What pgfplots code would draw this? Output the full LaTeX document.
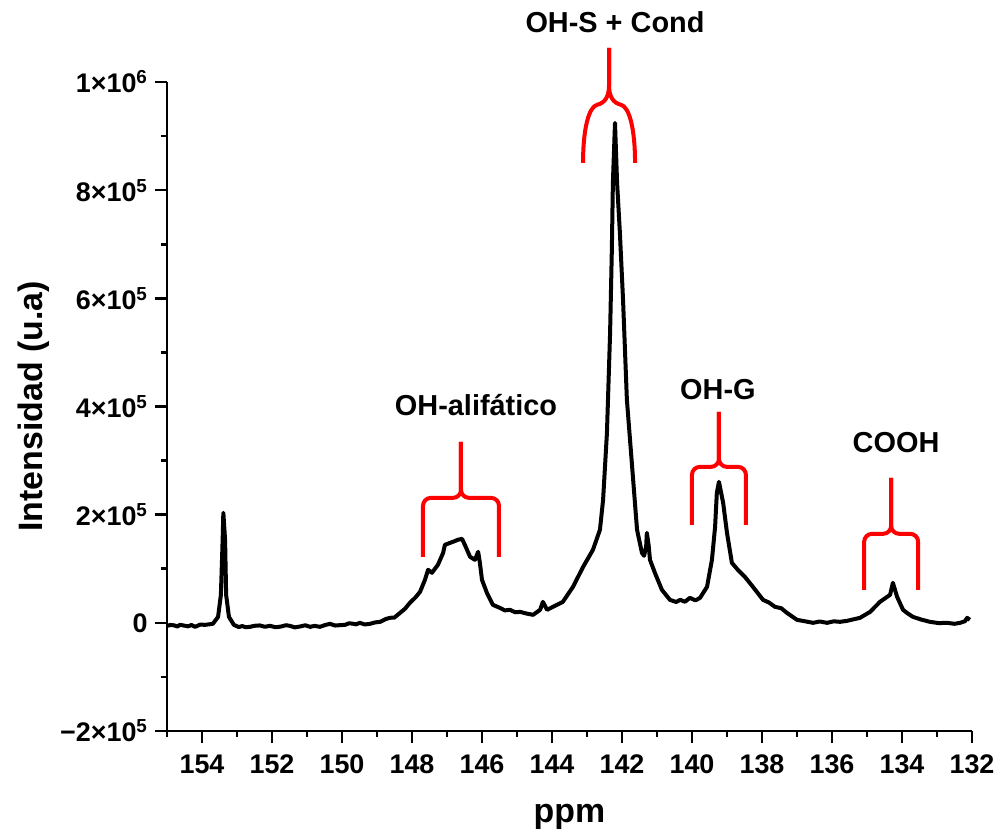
\documentclass[border=0pt]{standalone}
\usepackage{fontspec}
\setmainfont{Liberation Sans}
\usepackage{pgfplots}
\pgfplotsset{compat=1.18}
\begin{document}
\begin{tikzpicture}
\begin{axis}[
  scale only axis, width=805bp, height=649bp,
  x dir=reverse, xmin=132, xmax=155, ymin=-200000, ymax=1000000,
  axis lines*=left, axis line style={line width=2.6bp},
  clip=false,
  xtick={132,134,...,154}, minor xtick={133,135,...,155},
  ytick={-200000,0,200000,400000,600000,800000,1000000},
  yticklabels={−2×10\textsuperscript{5},0,2×10\textsuperscript{5},4×10\textsuperscript{5},6×10\textsuperscript{5},8×10\textsuperscript{5},1×10\textsuperscript{6}},
  minor ytick={-100000,100000,300000,500000,700000,900000},
  scaled y ticks=false,
  tick align=outside, major tick length=12bp, minor tick length=6bp,
  every tick/.style={line width=2.6bp, black},
  ticklabel style={font=\fontsize{27}{32}\selectfont\bfseries},
  xticklabel style={yshift=-8bp},
  yticklabel style={xshift=-4bp},
  /pgf/number format/assume math mode=true,
  xlabel={ppm}, ylabel={Intensidad (u.a)},
  label style={font=\fontsize{34}{40}\selectfont\bfseries},
  xlabel style={at={(axis description cs:0.5,0)}, anchor=center, yshift=-86bp},
  ylabel style={at={(axis description cs:0,0.5)}, anchor=center, yshift=133bp},
]
\coordinate (ll) at (axis description cs:0,0);
\coordinate (ur) at (axis description cs:1,1);
\addplot[line width=4bp, black, line join=round] coordinates {
(155.00,-5550) (154.90,-3900) (154.80,-4600) (154.70,-6800) (154.63,-3700) (154.50,-5200) (154.40,-6500) (154.30,-4000) (154.20,-7400) (154.05,-3300) (153.91,-3700)
(153.69,-1850) (153.54,11100) (153.46,51800) (153.41,153500) (153.39,203400) (153.34,153500)
(153.31,51800) (153.23,11100) (153.09,-3700) (152.95,-7800) (152.85,-6000) (152.75,-8200) (152.63,-7400) (152.50,-5500) (152.35,-4800) (152.20,-7300) (152.06,-5550)
(151.90,-8100) (151.75,-7000) (151.60,-4400) (151.49,-5550) (151.35,-8400) (151.20,-6800) (151.05,-4500) (150.91,-7400) (150.78,-5600) (150.63,-7400) (150.48,-4000) (150.34,-1850)
(150.20,-5000) (150.10,-4500) (149.91,-3700) (149.80,-800) (149.70,-1500) (149.60,-2800) (149.49,0) (149.35,-3000) (149.20,-1850) (149.05,800) (148.91,1850)
(148.75,7000) (148.63,9250) (148.50,9800) (148.34,18500) (148.20,26000) (148.06,37000) (147.90,47000) (147.77,57300) (147.63,79500) (147.54,98000)
(147.43,92500) (147.26,107200) (147.11,129400) (147.06,144200) (146.91,147900) (146.80,150500) (146.69,153500)
(146.57,155300) (146.49,144200) (146.34,122000) (146.20,116500) (146.11,131300) (146.06,110900)
(146.00,79500) (145.86,55500) (145.69,33300) (145.49,27700) (145.35,23000) (145.20,24000) (145.05,19500) (144.91,20300)
(144.75,17500) (144.54,14800) (144.34,24000) (144.26,38800) (144.14,24000) (143.97,29600) (143.69,38800)
(143.40,66600) (143.11,103500) (142.83,135000) (142.63,172000) (142.54,227400) (142.43,351300)
(142.34,536200) (142.29,689700) (142.26,813600) (142.20,924500) (142.14,813600) (142.06,721100)
(141.97,597200) (141.86,412300) (141.71,288400) (141.57,172000) (141.43,129400) (141.37,123900)
(141.31,140500) (141.29,166400) (141.24,144200) (141.20,116500) (141.06,92500) (140.86,61000)
(140.63,42500) (140.45,38500) (140.34,42500) (140.20,39000) (140.06,46200) (139.90,41500) (139.77,46200) (139.57,66600) (139.43,116500)
(139.34,177500) (139.29,240400) (139.23,260700) (139.11,221900) (139.00,166400) (138.86,110900)
(138.69,98000) (138.49,85100) (138.26,66600) (137.97,42500) (137.80,37500) (137.63,29600) (137.45,27000) (137.29,18500)
(137.00,5550) (136.80,3200) (136.54,0) (136.35,2500) (136.14,0) (135.95,2800) (135.77,1850) (135.57,3700) (135.20,9250)
(134.91,20300) (134.63,38800) (134.34,51800) (134.26,74000) (134.14,48100) (133.97,24000)
(133.85,18000) (133.69,11100) (133.45,6000) (133.20,1850) (132.95,-500) (132.71,0) (132.50,-1800) (132.34,0) (132.20,3000) (132.14,9250) (132.06,5550)
};
% braces
\draw[red, line width=4bp, rounded corners=8bp] (axis cs:146.6,231100) ++(-38bp,-59bp) |- ++(38bp,59bp) -- ++(0bp,56bp);
\draw[red, line width=4bp, rounded corners=8bp] (axis cs:146.6,231100) ++(38bp,-59bp) |- ++(-38bp,59bp) -- ++(0bp,56bp);
\draw[red, line width=4bp] (axis cs:142.37,957800) ++(-26bp,-58bp) .. controls +(0bp,35bp) and +(-8bp,-2bp) .. ++(14bp,58bp) .. controls +(8bp,2bp) and +(0bp,-12bp) .. ++(12bp,20bp) -- ++(0bp,37bp);
\draw[red, line width=4bp] (axis cs:142.37,957800) ++(26bp,-58bp) .. controls +(0bp,35bp) and +(8bp,-2bp) .. ++(-14bp,58bp) .. controls +(-8bp,2bp) and +(0bp,-12bp) .. ++(-12bp,20bp) -- ++(0bp,37bp);
\draw[red, line width=4bp, rounded corners=8bp] (axis cs:139.23,288400) ++(-27bp,-58bp) |- ++(27bp,58bp) -- ++(0bp,55bp);
\draw[red, line width=4bp, rounded corners=8bp] (axis cs:139.23,288400) ++(27bp,-58bp) |- ++(-27bp,58bp) -- ++(0bp,55bp);
\draw[red, line width=4bp, rounded corners=8bp] (axis cs:134.31,164600) ++(-27bp,-56bp) |- ++(27bp,56bp) -- ++(0bp,56bp);
\draw[red, line width=4bp, rounded corners=8bp] (axis cs:134.31,164600) ++(27bp,-56bp) |- ++(-27bp,56bp) -- ++(0bp,56bp);
% labels
\node[font=\fontsize{29}{34}\selectfont\bfseries] at (axis cs:146.17,403100) {OH-alifático};
\node[font=\fontsize{29}{34}\selectfont\bfseries] at (axis cs:142.2,1111250) {OH-S + Cond};
\node[font=\fontsize{29}{34}\selectfont\bfseries] at (axis cs:139.26,430800) {OH-G};
\node[font=\fontsize{29}{34}\selectfont\bfseries] at (axis cs:134.17,332800) {COOH};
\end{axis}
\pgfresetboundingbox
\useasboundingbox ([shift={(-167bp,-105bp)}]ll) rectangle ([shift={(25bp,82bp)}]ur);
\end{tikzpicture}
\end{document}
